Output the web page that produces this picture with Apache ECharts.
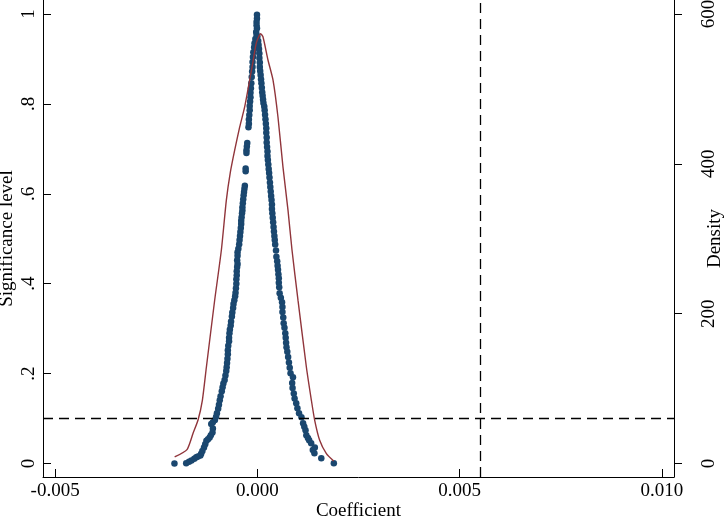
<!DOCTYPE html>
<html>
<head>
<meta charset="utf-8">
<script src="https://cdn.jsdelivr.net/npm/echarts@6/dist/echarts.min.js"></script>
<style>html,body{margin:0;padding:0;background:#fff;}#c{width:726px;height:518px;}</style>
</head>
<body>
<div id="c"></div>
<script>
// Coefficient ticks and labels
const xTicks = [-0.005, 0, 0.005, 0.010];
const yTicksLeft = [0, 0.2, 0.4, 0.6, 0.8, 1];
const yTicksRight = [0, 200, 400, 600];
const refP = 0.1;          // horizontal dashed line (significance level)
const refCoef = 0.0055;    // vertical dashed line (true estimate)

// Placebo estimates: [coefficient, p-value], left branch (coef < 0)
const pointsLeft = [
[-0.00001,0.998],[-0.00001,0.990],[-0.00002,0.982],[-0.00002,0.975],[-0.00001,0.968],[-0.00003,0.960],
[-0.00002,0.953],[-0.00005,0.944],[-0.00007,0.935],[-0.00008,0.926],[-0.00010,0.915],[-0.00011,0.904],
[-0.00012,0.893],[-0.00012,0.882],[-0.00013,0.872],[-0.00014,0.860],[-0.00015,0.846],[-0.00016,0.835],
[-0.00017,0.825],[-0.00017,0.815],[-0.00018,0.805],[-0.00019,0.795],[-0.00019,0.786],[-0.00020,0.775],
[-0.00021,0.765],[-0.00021,0.756],[-0.00022,0.748],[-0.00025,0.713],[-0.00026,0.705],[-0.00027,0.697],
[-0.00027,0.691],[-0.00029,0.656],[-0.00029,0.650],[-0.00031,0.618],[-0.00032,0.611],[-0.00033,0.604],
[-0.00034,0.597],[-0.00035,0.588],[-0.00036,0.579],[-0.00037,0.570],[-0.00037,0.563],[-0.00038,0.557],
[-0.00039,0.548],[-0.00040,0.540],[-0.00040,0.533],[-0.00041,0.524],[-0.00042,0.515],[-0.00043,0.506],
[-0.00044,0.497],[-0.00045,0.488],[-0.00047,0.478],[-0.00049,0.470],[-0.00049,0.462],[-0.00050,0.452],
[-0.00049,0.444],[-0.00050,0.437],[-0.00051,0.428],[-0.00051,0.419],[-0.00052,0.410],[-0.00052,0.400],
[-0.00053,0.390],[-0.00054,0.380],[-0.00055,0.372],[-0.00057,0.363],[-0.00059,0.355],[-0.00060,0.346],
[-0.00062,0.336],[-0.00063,0.327],[-0.00065,0.316],[-0.00066,0.307],[-0.00068,0.298],[-0.00069,0.290],
[-0.00070,0.280],[-0.00070,0.272],[-0.00072,0.262],[-0.00073,0.252],[-0.00073,0.243],[-0.00074,0.233],
[-0.00075,0.224],[-0.00076,0.214],[-0.00077,0.206],[-0.00079,0.196],[-0.00081,0.186],[-0.00084,0.178],
[-0.00086,0.170],[-0.00088,0.161],[-0.00091,0.150],[-0.00093,0.141],[-0.00095,0.131],[-0.00097,0.122],
[-0.00100,0.112],[-0.00102,0.104],[-0.00105,0.097],[-0.00110,0.092],[-0.00114,0.088],[-0.00110,0.078],
[-0.00111,0.069],[-0.00115,0.063],[-0.00118,0.058],[-0.00122,0.054],[-0.00126,0.051],[-0.00129,0.043],
[-0.00132,0.036],[-0.00136,0.028],[-0.00139,0.022],[-0.00141,0.018],[-0.00147,0.016],[-0.00151,0.014],
[-0.00156,0.011],[-0.00163,0.007],[-0.00169,0.004],[-0.00176,0.001],[-0.00205,0.000]
];
// right branch (coef > 0)
const pointsRight = [
[0.00000,0.950],[0.00002,0.940],[0.00003,0.931],[0.00004,0.922],[0.00005,0.912],[0.00005,0.902],
[0.00006,0.892],[0.00006,0.882],[0.00007,0.873],[0.00008,0.864],[0.00009,0.855],[0.00010,0.846],
[0.00011,0.836],[0.00012,0.826],[0.00013,0.818],[0.00014,0.810],[0.00015,0.802],[0.00017,0.794],
[0.00018,0.786],[0.00019,0.776],[0.00020,0.766],[0.00021,0.756],[0.00022,0.746],[0.00022,0.736],
[0.00023,0.725],[0.00023,0.714],[0.00024,0.704],[0.00025,0.694],[0.00025,0.684],[0.00026,0.675],
[0.00027,0.665],[0.00028,0.655],[0.00029,0.646],[0.00030,0.636],[0.00031,0.625],[0.00032,0.615],
[0.00033,0.605],[0.00034,0.595],[0.00035,0.586],[0.00036,0.576],[0.00036,0.566],[0.00037,0.557],
[0.00038,0.547],[0.00039,0.537],[0.00040,0.526],[0.00041,0.516],[0.00042,0.506],[0.00043,0.497],
[0.00044,0.487],[0.00046,0.474],[0.00047,0.460],[0.00049,0.450],[0.00050,0.440],[0.00051,0.431],
[0.00052,0.421],[0.00053,0.412],[0.00053,0.402],[0.00054,0.392],[0.00055,0.379],[0.00058,0.369],
[0.00061,0.359],[0.00062,0.348],[0.00062,0.337],[0.00064,0.325],[0.00065,0.312],[0.00067,0.302],
[0.00069,0.290],[0.00070,0.280],[0.00071,0.269],[0.00072,0.259],[0.00074,0.249],[0.00076,0.237],
[0.00078,0.225],[0.00080,0.213],[0.00082,0.201],[0.00088,0.192],[0.00086,0.179],[0.00087,0.168],
[0.00090,0.156],[0.00092,0.145],[0.00096,0.134],[0.00099,0.123],[0.00103,0.112],[0.00109,0.103],
[0.00113,0.090],[0.00116,0.082],[0.00119,0.074],[0.00121,0.063],[0.00125,0.057],[0.00128,0.052],
[0.00133,0.045],[0.00142,0.036],[0.00137,0.030],[0.00141,0.023],[0.00158,0.012],[0.00189,0.001]
];

// Kernel density of placebo coefficients (right axis)
const densityCoef = [-0.002045,-0.00174,-0.00159,-0.001469,-0.00136,-0.001261,-0.001056,-0.00089,-0.000767,-0.000668,-0.000561,-0.000438,-0.000314,-0.00019,-0.000109,-0.000025,0.000082,0.000138,0.000262,0.000386,0.000509,0.000633,0.000757,0.000856,0.001004,0.001212,0.001335,0.001417,0.00154,0.001706,0.001887];
const densityVal  = [8.8,18.7,40.5,57.8,84.5,128.6,218,285,351.6,389,418.4,449,476,512,536,561.6,573.6,569.6,538.6,512,462.5,395.7,338.3,285,218.1,128.6,84.5,57.8,31.2,13.4,3.5];

const FONT = 'Liberation Serif';
const chart = echarts.init(document.getElementById('c'), null, {renderer: 'canvas'});
const densityData = densityCoef.map((c, i) => [c, densityVal[i]]);

chart.setOption({
  animation: false,
  backgroundColor: '#fff',
  grid: {left: 43, right: 52, top: 0, bottom: 41, containLabel: false, outerBoundsMode: 'none'},
  xAxis: {
    type: 'value', min: -0.0053, max: 0.0103,
    name: 'Coefficient', nameLocation: 'middle', nameGap: 25, nameMoveOverlap: false,
    nameTextStyle: {fontFamily: FONT, fontSize: 19, color: '#000'},
    axisLine: {show: true, onZero: false, lineStyle: {color: '#000', width: 1}},
    axisTick: {show: true, inside: true, length: 8, customValues: xTicks, lineStyle: {color: '#000'}},
    axisLabel: {customValues: xTicks, margin: 5, fontFamily: FONT, fontSize: 19, color: '#000',
      formatter: v => v.toFixed(3)},
    splitLine: {show: false}
  },
  yAxis: [{
    type: 'value', min: -0.0298, max: 1.031, position: 'left',
    name: 'Significance level', nameLocation: 'middle', nameGap: 26, nameRotate: 90, nameMoveOverlap: false,
    nameTextStyle: {fontFamily: FONT, fontSize: 19, color: '#000'},
    axisLine: {show: true, onZero: false, lineStyle: {color: '#000', width: 1}},
    axisTick: {show: true, inside: true, length: 8, customValues: yTicksLeft, lineStyle: {color: '#000'}},
    axisLabel: {customValues: yTicksLeft, rotate: 90, margin: 4, fontFamily: FONT, fontSize: 19, color: '#000',
      formatter: v => (v === 0 ? '0' : v === 1 ? '1' : String(v.toFixed(1)).replace(/^0/, ''))},
    splitLine: {show: false}
  }, {
    type: 'value', min: -17.9, max: 618.7, position: 'right',
    name: 'Density', nameLocation: 'middle', nameGap: 32, nameRotate: 90, nameMoveOverlap: false,
    nameTextStyle: {fontFamily: FONT, fontSize: 19, color: '#000'},
    axisLine: {show: true, onZero: false, lineStyle: {color: '#000', width: 1}},
    axisTick: {show: true, inside: false, length: 8, customValues: yTicksRight, lineStyle: {color: '#000'}},
    axisLabel: {customValues: yTicksRight, rotate: 90, margin: 26, fontFamily: FONT, fontSize: 19, color: '#000'},
    splitLine: {show: false}
  }],
  series: [{
    type: 'scatter', yAxisIndex: 0, symbol: 'circle', symbolSize: 6.5,
    itemStyle: {color: '#1a476f', opacity: 1},
    data: pointsLeft.concat(pointsRight), z: 2,
    markLine: {
      silent: true, symbol: 'none', animation: false, precision: 6,
      label: {show: false},
      lineStyle: {color: '#000', width: 1.3, type: [10, 6]},
      data: [{yAxis: refP}, {xAxis: refCoef}]
    }
  }, {
    type: 'line', yAxisIndex: 1, data: densityData, showSymbol: false, symbol: 'none',
    smooth: 0.2, lineStyle: {color: '#90353b', width: 1.4}, z: 3
  }]
});
</script>
</body>
</html>
